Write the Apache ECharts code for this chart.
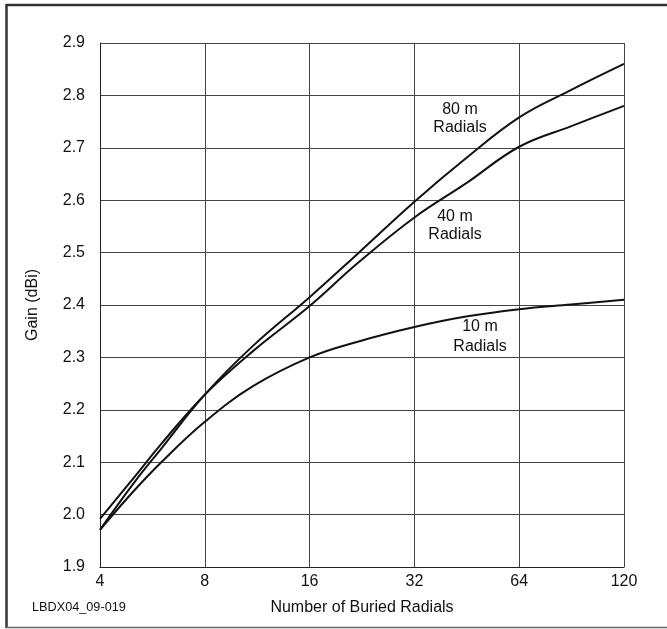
<!DOCTYPE html>
<html>
<head>
<meta charset="utf-8">
<script src="https://cdn.jsdelivr.net/npm/echarts@6/dist/echarts.min.js"></script>
<style>
html,body{margin:0;padding:0;background:#fff;}
#chart{width:667px;height:629px;}
</style>
</head>
<body>
<div id="chart"></div>
<script>
// Number of buried radials (axis position; the last gridline is labelled "120")
const radials = [4, 5, 6, 8, 11, 16, 22, 32, 45, 64, 90, 128];
const gain10m = [1.971, 2.045, 2.100, 2.177, 2.245, 2.300, 2.330, 2.358, 2.378, 2.392, 2.401, 2.410];
const gain40m = [1.992, 2.070, 2.135, 2.229, 2.312, 2.398, 2.480, 2.567, 2.632, 2.702, 2.741, 2.780];
const gain80m = [1.971, 2.060, 2.126, 2.229, 2.322, 2.415, 2.498, 2.597, 2.680, 2.758, 2.810, 2.860];
const xTickValues = [4, 8, 16, 32, 64, 128];
const xTickLabels = ['4', '8', '16', '32', '64', '120'];
const seriesNames = ['10 m Radials', '40 m Radials', '80 m Radials'];

const pair = (ys) => radials.map((x, i) => [x, ys[i]]);
const FONT = '"Liberation Sans", Arial, sans-serif';
const chart = echarts.init(document.getElementById('chart'));

const lineStyle = { color: '#111', width: 2 };
chart.setOption({
  animation: false,
  backgroundColor: '#fff',
  grid: { left: 100, right: 43, top: 43, bottom: 62 },
  xAxis: {
    type: 'log', logBase: 2, min: 4, max: 128,
    name: 'Number of Buried Radials', nameLocation: 'middle', nameGap: 33,
    nameTextStyle: { fontFamily: FONT, fontSize: 16, color: '#111' },
    axisLine: { show: true, lineStyle: { color: '#222', width: 1 } },
    axisTick: { show: false },
    minorTick: { show: false },
    axisLabel: {
      margin: 7, fontFamily: FONT, fontSize: 16, color: '#111',
      formatter: (v) => { const i = xTickValues.indexOf(Math.round(v)); return i >= 0 ? xTickLabels[i] : ''; }
    },
    splitLine: { show: true, lineStyle: { color: '#444', width: 1 } }
  },
  yAxis: {
    type: 'value', min: 1.9, max: 2.9, interval: 0.1,
    name: 'Gain (dBi)', nameLocation: 'middle', nameGap: 59, nameRotate: 90,
    nameTextStyle: { fontFamily: FONT, fontSize: 16, color: '#111' },
    axisLine: { show: true, lineStyle: { color: '#222', width: 1 } },
    axisTick: { show: false },
    axisLabel: { margin: 15, fontFamily: FONT, fontSize: 16, color: '#111', formatter: (v) => v.toFixed(1) },
    splitLine: { show: true, lineStyle: { color: '#444', width: 1 } }
  },
  series: [
    { name: seriesNames[0], type: 'line', data: pair(gain10m), smooth: 0.4, showSymbol: false, lineStyle, z: 5 },
    { name: seriesNames[1], type: 'line', data: pair(gain40m), smooth: 0.4, showSymbol: false, lineStyle, z: 5 },
    { name: seriesNames[2], type: 'line', data: pair(gain80m), smooth: 0.4, showSymbol: false, lineStyle, z: 5 }
  ],
  graphic: [
    { type: 'line', shape: { x1: 6.5, y1: 5, x2: 667, y2: 5 }, style: { stroke: '#333', lineWidth: 2.5 } },
    { type: 'line', shape: { x1: 6.5, y1: 4, x2: 6.5, y2: 628 }, style: { stroke: '#333', lineWidth: 2.5 } },
    { type: 'line', shape: { x1: 6, y1: 627.5, x2: 667, y2: 627.5 }, style: { stroke: '#666', lineWidth: 1.5 } },
    { type: 'text', left: 32, top: 601, style: { text: 'LBDX04_09-019', font: '12.7px ' + FONT, fill: '#111' } },
    { type: 'text', x: 460, y: 119, style: { text: '80 m\nRadials', font: '16px ' + FONT, fill: '#111', align: 'center', verticalAlign: 'middle', lineHeight: 18 } },
    { type: 'text', x: 455, y: 226, style: { text: '40 m\nRadials', font: '16px ' + FONT, fill: '#111', align: 'center', verticalAlign: 'middle', lineHeight: 18 } },
    { type: 'text', x: 480, y: 336.5, style: { text: '10 m\nRadials', font: '16px ' + FONT, fill: '#111', align: 'center', verticalAlign: 'middle', lineHeight: 20 } }
  ]
});
</script>
</body>
</html>
